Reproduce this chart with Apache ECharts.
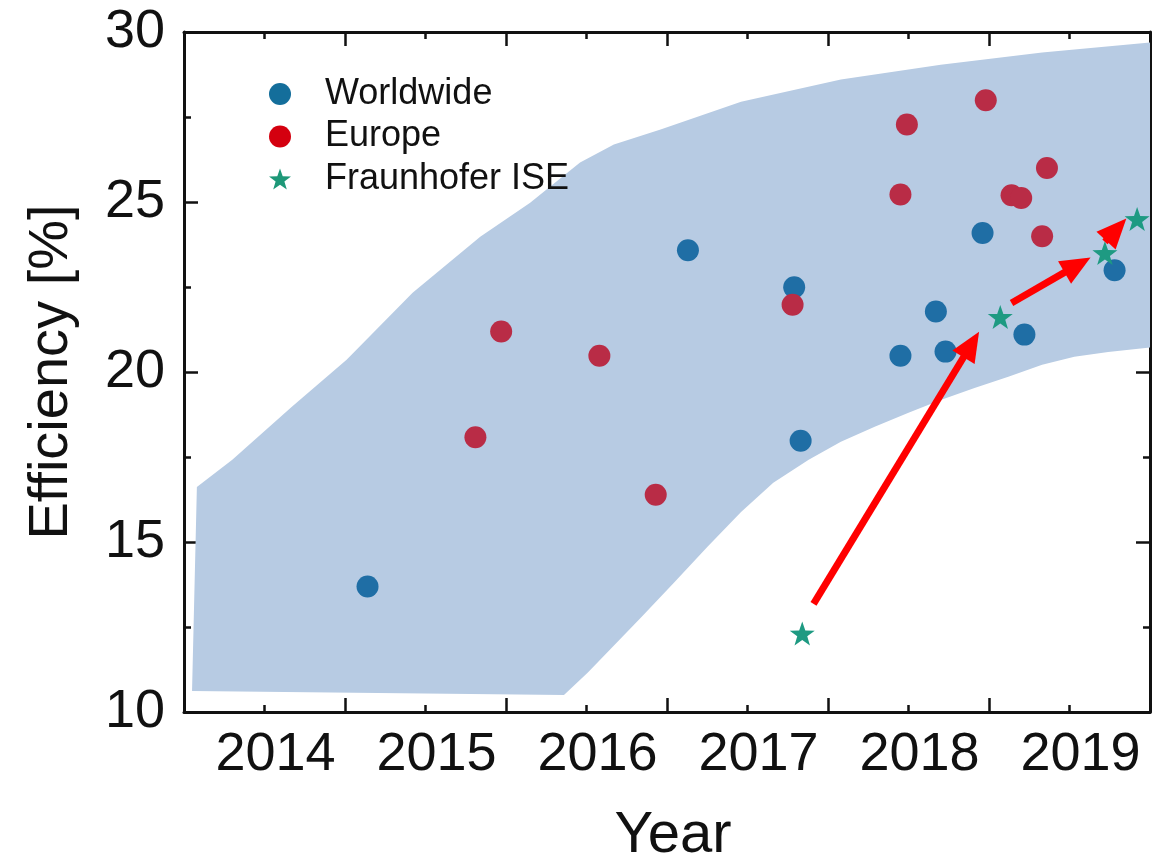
<!DOCTYPE html>
<html>
<head>
<meta charset="utf-8">
<script src="https://cdn.jsdelivr.net/npm/echarts@6/dist/echarts.min.js"></script>
<style>
  html, body { margin: 0; padding: 0; background: #ffffff; }
  #chart { width: 1166px; height: 864px; }
</style>
</head>
<body>
<div id="chart"></div>
<script>
// ---- Data ----
const yearLabels = [2014, 2015, 2016, 2017, 2018, 2019];

const worldwide = [
  [2014.64, 13.69], [2016.63, 23.58], [2017.29, 22.49], [2017.33, 17.98],
  [2017.95, 20.48], [2018.17, 21.78], [2018.23, 20.60], [2018.46, 24.09],
  [2018.72, 21.10], [2019.28, 22.99]
];

const europe = [
  [2015.31, 18.08], [2015.47, 21.19], [2016.08, 20.48], [2016.43, 16.39],
  [2017.28, 21.98], [2017.95, 25.22], [2017.99, 27.28], [2018.48, 27.99],
  [2018.64, 25.20], [2018.70, 25.12], [2018.83, 23.99], [2018.86, 26.00]
];

const fraunhofer = [
  [2017.34, 12.31], [2018.57, 21.62], [2019.22, 23.50], [2019.42, 24.50]
];

// Shaded band: upper edge (left -> right) then lower edge (right -> left)
const bandUpper = [
  [2013.58, 16.62], [2013.80, 17.42], [2014.17, 18.98], [2014.51, 20.36],
  [2014.92, 22.33], [2015.34, 23.98], [2015.65, 24.98], [2015.96, 26.16],
  [2016.17, 26.69], [2016.46, 27.13], [2016.96, 27.95], [2017.58, 28.60],
  [2018.20, 29.04], [2018.83, 29.40], [2019.50, 29.69]
];
const bandLower = [
  [2019.50, 20.72], [2019.24, 20.59], [2019.03, 20.45], [2018.83, 20.21],
  [2018.62, 19.86], [2018.41, 19.53], [2018.20, 19.18], [2018.00, 18.80],
  [2017.79, 18.39], [2017.58, 17.95], [2017.38, 17.42], [2017.16, 16.74],
  [2016.96, 15.88], [2016.75, 14.85], [2016.54, 13.79], [2016.34, 12.79],
  [2016.01, 11.17], [2015.86, 10.50], [2013.55, 10.62]
];

// Red annotation arrows: [tail, centre of arrow head]
const arrows = [
  [[2017.41, 13.18], [2018.39, 20.81]],
  [[2018.64, 22.03], [2019.05, 23.15]],
  [[2019.22, 23.83], [2019.29, 24.19]]
];

// ---- Chart ----
const FONT = '"Liberation Sans", Arial, Helvetica, sans-serif';
const STAR = 'path://M0,-10 L2.35,-3.24 L9.51,-3.09 L3.80,1.24 L5.88,8.09 L0,4 L-5.88,8.09 L-3.80,1.24 L-9.51,-3.09 L-2.35,-3.24 Z';
const AXIS_COLOR = '#111111';

const chart = echarts.init(document.getElementById('chart'), null, { renderer: 'canvas' });

const frameAxisX = (pos) => ({
  type: 'value', position: pos, min: 2013.5, max: 2019.5, interval: 1,
  axisLine: { show: true, onZero: false, lineStyle: { color: AXIS_COLOR, width: 3 } },
  axisTick: { show: true, inside: true, length: 14, lineStyle: { color: AXIS_COLOR, width: 2.5 } },
  minorTick: { show: true, splitNumber: 2, length: 7, lineStyle: { color: AXIS_COLOR, width: 2.5 } },
  axisLabel: { show: false },
  splitLine: { show: false }, minorSplitLine: { show: false }
});

const frameAxisY = (pos, withLabels) => ({
  type: 'value', position: pos, min: 10, max: 30, interval: 5,
  axisLine: { show: true, onZero: false, lineStyle: { color: AXIS_COLOR, width: 3 } },
  axisTick: { show: true, inside: true, length: 14, lineStyle: { color: AXIS_COLOR, width: 2.5 } },
  minorTick: { show: true, splitNumber: 2, length: 7, lineStyle: { color: AXIS_COLOR, width: 2.5 } },
  axisLabel: withLabels ? { show: true, fontSize: 54, fontFamily: FONT, color: AXIS_COLOR, margin: 19 } : { show: false },
  splitLine: { show: false }, minorSplitLine: { show: false },
  name: withLabels ? 'Efficiency [%]' : '',
  nameLocation: 'middle', nameGap: 104,
  nameTextStyle: { fontSize: 56, fontFamily: FONT, color: AXIS_COLOR }
});

const option = {
  animation: false,
  backgroundColor: '#ffffff',
  grid: { left: 184, right: 16, top: 32, bottom: 152, containLabel: false, outerBoundsMode: 'none' },
  legend: {
    orient: 'vertical', left: 264, top: 71,
    itemWidth: 22, itemHeight: 22, itemGap: 6.5,
    textStyle: { fontSize: 36, fontFamily: FONT, color: AXIS_COLOR, lineHeight: 36, padding: [0, 0, 0, 29] },
    data: [
      { name: 'Worldwide', icon: 'circle', itemStyle: { color: '#146e9b' } },
      { name: 'Europe', icon: 'circle', itemStyle: { color: '#d4000f' } },
      { name: 'Fraunhofer ISE', icon: STAR, itemStyle: { color: '#1e9878' } }
    ]
  },
  xAxis: [
    frameAxisX('bottom'),
    {
      type: 'value', position: 'bottom', min: 2013.5, max: 2019.5, interval: 0.5,
      axisLine: { show: false }, axisTick: { show: false },
      splitLine: { show: false },
      axisLabel: {
        show: true, fontSize: 54, fontFamily: FONT, color: AXIS_COLOR, margin: 16,
        padding: [0, 0, 0, 22],
        formatter: (v) => (yearLabels.indexOf(Math.round(v * 2) / 2) >= 0 ? String(Math.round(v)) : '')
      },
      name: 'Year', nameLocation: 'middle', nameGap: 95,
      nameTextStyle: { fontSize: 58, fontFamily: FONT, color: AXIS_COLOR, padding: [0, 0, 0, 12] }
    },
    frameAxisX('top')
  ],
  yAxis: [ frameAxisY('left', true), frameAxisY('right', false) ],
  series: [
    {
      type: 'custom', name: 'band', xAxisIndex: 0, yAxisIndex: 0,
      silent: true, z: 1, clip: true,
      data: [[2016, 20]],
      encode: { x: 0, y: 1 },
      renderItem: function (params, api) {
        const pts = bandUpper.concat(bandLower).map(p => api.coord(p));
        return { type: 'polygon', shape: { points: pts }, style: { fill: '#b7cbe3' } };
      }
    },
    {
      type: 'scatter', name: 'Worldwide', xAxisIndex: 0, yAxisIndex: 0, z: 3,
      symbol: 'circle', symbolSize: 22,
      itemStyle: { color: '#1f6ea5', opacity: 1 },
      data: worldwide
    },
    {
      type: 'scatter', name: 'Europe', xAxisIndex: 0, yAxisIndex: 0, z: 3,
      symbol: 'circle', symbolSize: 22,
      itemStyle: { color: '#b92c46', opacity: 1 },
      data: europe
    },
    {
      type: 'scatter', name: 'Fraunhofer ISE', xAxisIndex: 0, yAxisIndex: 0, z: 4,
      symbol: STAR, symbolSize: [25, 24],
      itemStyle: { color: '#1e9a82', opacity: 1 },
      data: fraunhofer,
      markLine: {
        silent: true, animation: false,
        symbol: ['none', 'triangle'], symbolSize: [26, 30],
        label: { show: false },
        lineStyle: { color: '#ff0000', width: 7, type: 'solid', opacity: 1 },
        emphasis: { disabled: true },
        data: arrows.map(a => [{ coord: a[0] }, { coord: a[1] }])
      }
    }
  ]
};

chart.setOption(option);
</script>
</body>
</html>
